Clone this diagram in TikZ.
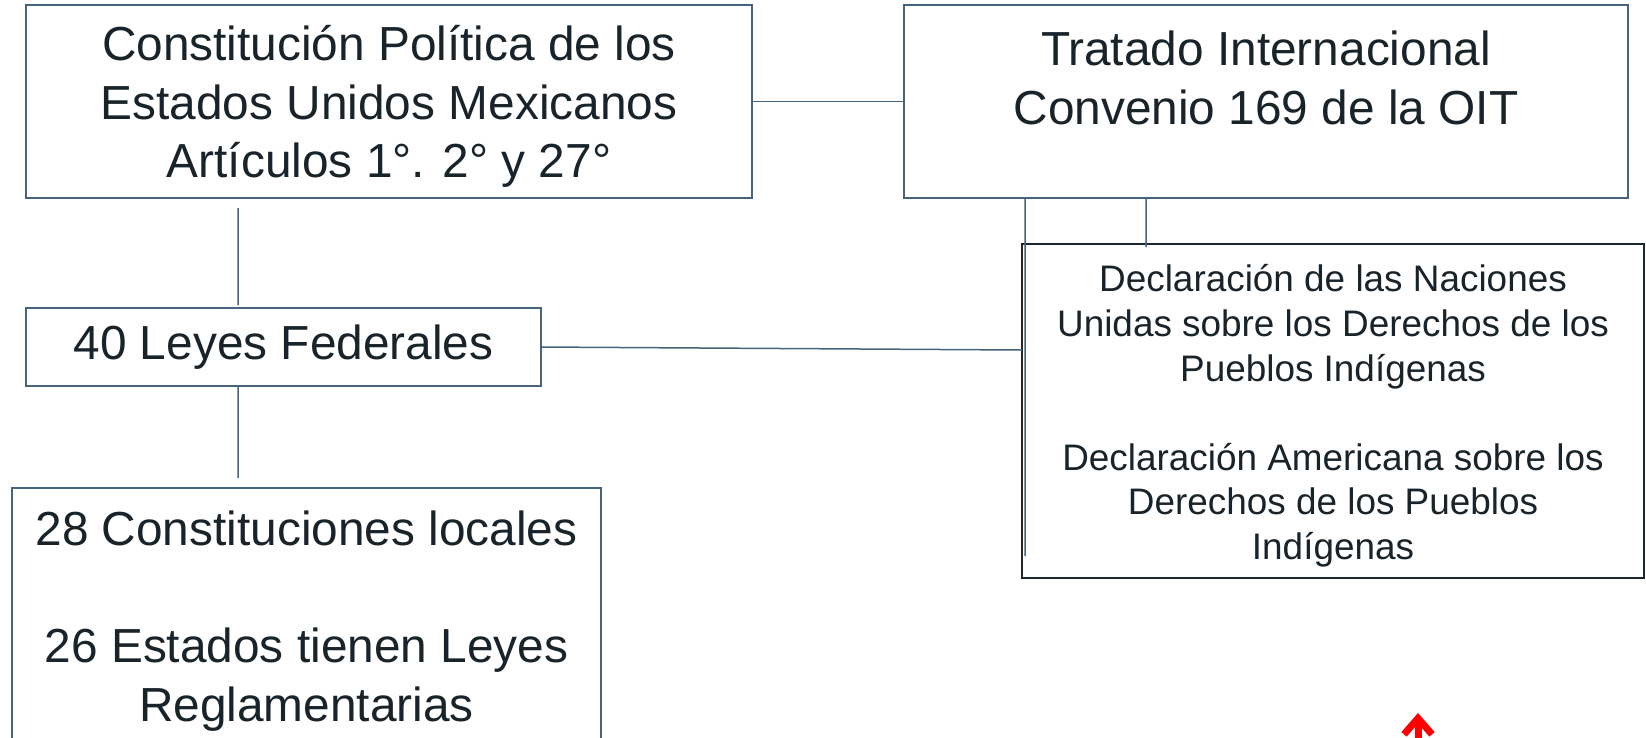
\documentclass[tikz,border=0pt]{standalone}
\usepackage{fontspec}
\setmainfont{Liberation Sans}
\usetikzlibrary{arrows.meta}
\definecolor{linegray}{RGB}{70,100,125}
\definecolor{textdark}{RGB}{25,35,42}
\definecolor{boxdark}{RGB}{30,40,45}
\newcommand{\padtop}[1]{\rule{0pt}{#1}}
\begin{document}
\begin{tikzpicture}[inner sep=0pt,outer sep=0pt,line width=0.04cm,
bigbox/.style={draw=linegray,rectangle,align=center,text=textdark,font=\fontsize{27.2}{33.4}\selectfont},
smallbox/.style={draw=boxdark,rectangle,align=center,text=textdark,font=\fontsize{21}{25.4}\selectfont},
link/.style={draw=linegray,line width=0.03cm}]
\useasboundingbox (0,0) rectangle (32.92,-14.74);
\draw (7.78,-2.03) node[bigbox,minimum width=14.52cm,minimum height=3.86cm] (cpeum) {\padtop{25.6pt}Constitución Política de los\\Estados Unidos Mexicanos\\Artículos 1°. 2° y 27°};
\draw (25.32,-2.03) node[bigbox,minimum width=14.48cm,minimum height=3.86cm] (oit) {\padtop{25.6pt}Tratado Internacional\\Convenio 169 de la OIT\\ \mbox{}};
\draw (5.67,-6.94) node[bigbox,minimum width=10.3cm,minimum height=1.56cm] (leyes) {40 Leyes Federales};
\draw (6.13,-12.32) node[bigbox,minimum width=11.78cm,minimum height=5.12cm] (locales) {\padtop{25.6pt}28 Constituciones locales\\ \mbox{}\\26 Estados tienen Leyes\\Reglamentarias};
\draw (26.66,-8.22) node[smallbox,minimum width=12.44cm,minimum height=6.68cm] (decl) {\padtop{21pt}Declaración de las Naciones\\Unidas sobre los Derechos de los\\Pueblos Indígenas\\ \mbox{}\\Declaración Americana sobre los\\Derechos de los Pueblos\\Indígenas};

\draw[link] (cpeum.east) -- (oit.west);
\draw[link] ([xshift=4.24cm,yshift=-0.2cm]cpeum.south west) -- ([xshift=4.24cm,yshift=0.06cm]leyes.north west);
\draw[link] ([xshift=4.24cm]leyes.south west) -- ([xshift=4.52cm,yshift=0.2cm]locales.north west);
\draw[link] (leyes.east) -- ([yshift=-2.12cm]decl.north west);
\draw[link] ([xshift=2.42cm]oit.south west) -- ([xshift=0.06cm,yshift=0.44cm]decl.south west);
\draw[link] ([xshift=4.84cm]oit.south west) -- ([xshift=2.48cm,yshift=-0.06cm]decl.north west);

\coordinate (redtail) at (28.36,-15.2);
\coordinate (redtip) at (28.36,-14.26);
\draw[red,line width=0.14cm,-{Straight Barb[length=0.32cm,width=0.56cm]}] (redtail) -- (redtip);
\end{tikzpicture}
\end{document}
